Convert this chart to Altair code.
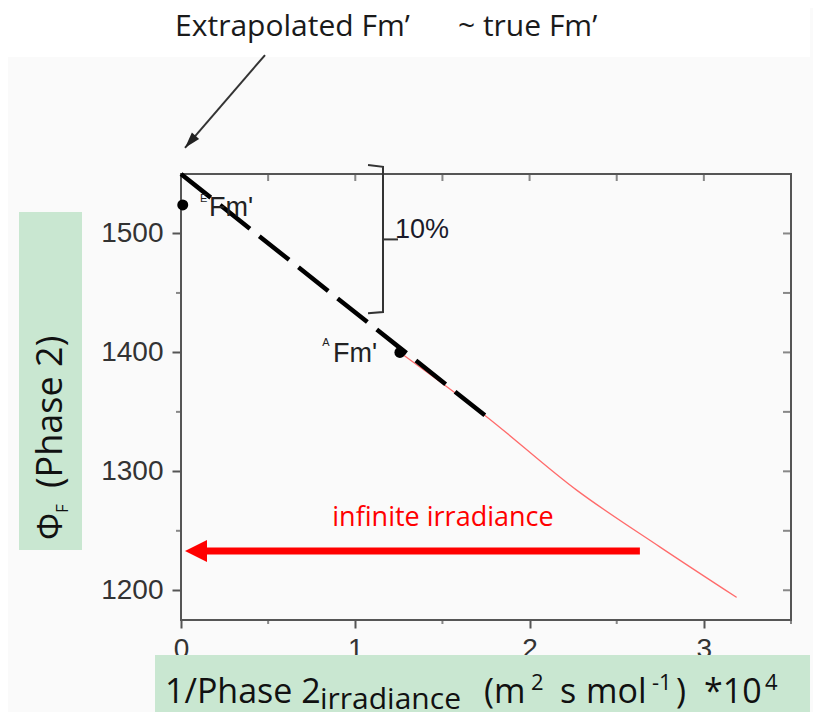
import altair as alt
import pandas as pd

# ---------------- data ----------------
X_DOMAIN = [0, 3.5]
Y_DOMAIN = [1175, 1550]
x_major = [0, 1, 2, 3]
y_major = [1200, 1300, 1400, 1500]
x_minor = [0.5, 1.5, 2.5, 3.5]
y_minor = [1250, 1350, 1450]
x_box_ticks = [0.5, 1, 1.5, 2, 2.5, 3]
y_box_ticks = [1200, 1250, 1300, 1350, 1400, 1450, 1500]

# extrapolated (dashed) line
fit_x = [0.0, 1.744]
fit_y = [1550, 1347]
# measured relationship (thin red)
curve_x = [1.256, 1.744, 2.272, 2.747, 3.188]
curve_y = [1400, 1347, 1284, 1236.5, 1194]
# points and their labels
pt_x = [0.01, 1.256]
pt_y = [1524, 1400]
lab_x = [0.161, 0.872]
lab_y = [1521, 1399]
sup_x = [0.130, 0.832]
sup_y = [1529, 1407.5]
sup_txt = ["E", "A"]

# 10% bracket
br_x = [1.073, 1.159, 1.159, 1.073]
br_y = [1557.5, 1556, 1434, 1433]
br_tick_x = [1.159, 1.245]
br_tick_y = [1495, 1495]
pct_pos = [1.228, 1503]

# top annotation arrow
blk_x = [0.482, 0.023]
blk_y = [1650, 1572]
title_txt = ["Extrapolated Fm\u2019", "~ true Fm\u2019"]
title_x = [-0.034, 1.589]
title_y = [1666, 1666]

# infinite irradiance arrow
red_x = [2.633, 0.08]
red_y = [1233, 1233]
red_tip = [0.023, 1233]
inf_text = ["infinite irradiance", 1.503, 1254]

# axis-title pieces (text, px along, px across, font size) relative to plot origin
ytitle_parts = [("\u03a6", 366, -119, 34), ("F", 339, -113, 17), ("(Phase 2)", 314, -119, 36)]
xtitle_parts = [("1/Phase 2", -16, 529, 34), ("irradiance", 139, 535, 30),
                ("(m", 303, 529, 34), ("2", 350, 516, 22), ("s", 379, 529, 34),
                ("mol", 405, 529, 34), ("-1", 471, 516, 22), (")", 495, 529, 34),
                ("*10", 523, 529, 34), ("4", 584, 516, 22)]

xs = alt.Scale(domain=X_DOMAIN, nice=False, zero=False)
ys = alt.Scale(domain=Y_DOMAIN, nice=False, zero=False)
AX = "#555555"
LBL = "#333333"
SANS = "Open Sans"

xaxis = alt.Axis(values=x_major, title=None, grid=False, domain=False, tickSize=8,
                 tickWidth=2, tickColor=AX, labelFont="Liberation Sans", labelFontSize=28,
                 labelColor=LBL, labelPadding=7, format="d", labelFlush=False)
yaxis = alt.Axis(values=y_major, title=None, grid=False, domain=False, tickSize=9,
                 tickWidth=2, tickColor=AX, labelFont="Liberation Sans", labelFontSize=28,
                 labelColor=LBL, labelPadding=9, format="d", labelFlush=False)


def X(f):
    return alt.X(f, type="quantitative", scale=xs, axis=xaxis)


def Y(f):
    return alt.Y(f, type="quantitative", scale=ys, axis=yaxis)


one = pd.DataFrame({"a": [0]})
layers = []

# top white strip (page background above the slide area)
layers.append(alt.Chart(one).mark_rect(color="#ffffff").encode(
    x=alt.value(-173), x2=alt.value(629), y=alt.value(-166), y2=alt.value(-117)))

# axis-title green boxes
layers.append(alt.Chart(one).mark_rect(color="#c9e7d1").encode(
    x=alt.value(-162), x2=alt.value(-99), y=alt.value(38), y2=alt.value(376)))
layers.append(alt.Chart(one).mark_rect(color="#c9e7d1").encode(
    x=alt.value(-26), x2=alt.value(629), y=alt.value(481), y2=alt.value(546)))

# minor ticks: bottom and left (outward)
layers.append(alt.Chart(pd.DataFrame({"x": x_minor, "y": [Y_DOMAIN[0]] * len(x_minor)}))
              .mark_tick(orient="vertical", size=4, thickness=2, color=AX, yOffset=2)
              .encode(x=X("x"), y=Y("y")))
layers.append(alt.Chart(pd.DataFrame({"y": y_minor, "x": [X_DOMAIN[0]] * len(y_minor)}))
              .mark_tick(orient="horizontal", size=5, thickness=2, color=AX, xOffset=-2.5)
              .encode(x=X("x"), y=Y("y")))
# top and right ticks (inward)
layers.append(alt.Chart(pd.DataFrame({"x": x_box_ticks, "y": [Y_DOMAIN[1]] * len(x_box_ticks)}))
              .mark_tick(orient="vertical", size=7, thickness=2, color=AX, yOffset=3.5)
              .encode(x=X("x"), y=Y("y")))
layers.append(alt.Chart(pd.DataFrame({"y": y_box_ticks, "x": [X_DOMAIN[1]] * len(y_box_ticks)}))
              .mark_tick(orient="horizontal", size=8, thickness=2, color=AX, xOffset=-4)
              .encode(x=X("x"), y=Y("y")))

# thin red measured curve
layers.append(alt.Chart(pd.DataFrame({"x": curve_x, "y": curve_y}))
              .mark_line(color="#ff6b6b", strokeWidth=1.3, interpolate="monotone")
              .encode(x=X("x"), y=Y("y")))
# dashed extrapolation
layers.append(alt.Chart(pd.DataFrame({"x": fit_x, "y": fit_y}))
              .mark_line(color="black", strokeWidth=4.5, strokeDash=[38, 12], strokeCap="butt")
              .encode(x=X("x"), y=Y("y")))
# points
layers.append(alt.Chart(pd.DataFrame({"x": pt_x, "y": pt_y}))
              .mark_circle(color="black", size=120, opacity=1)
              .encode(x=X("x"), y=Y("y")))
# point labels
layers.append(alt.Chart(pd.DataFrame({"x": lab_x, "y": lab_y, "t": ["Fm'", "Fm'"]}))
              .mark_text(font="Liberation Sans", fontSize=27, color="#222222", align="left",
                         baseline="middle")
              .encode(x=X("x"), y=Y("y"), text="t:N"))
layers.append(alt.Chart(pd.DataFrame({"x": sup_x, "y": sup_y, "t": sup_txt}))
              .mark_text(font="Liberation Sans", fontSize=11, color="#222222", align="center",
                         baseline="middle")
              .encode(x=X("x"), y=Y("y"), text="t:N"))

# bracket
layers.append(alt.Chart(pd.DataFrame({"x": br_x, "y": br_y, "o": [0, 1, 2, 3]}))
              .mark_line(color="#333333", strokeWidth=2)
              .encode(x=X("x"), y=Y("y"), order="o:Q"))
layers.append(alt.Chart(pd.DataFrame({"x": br_tick_x, "y": br_tick_y}))
              .mark_line(color="#333333", strokeWidth=2)
              .encode(x=X("x"), y=Y("y")))
layers.append(alt.Chart(pd.DataFrame({"x": [pct_pos[0]], "y": [pct_pos[1]], "t": ["10%"]}))
              .mark_text(font="Liberation Sans", fontSize=27, color="#1a1a2a", align="left",
                         baseline="middle")
              .encode(x=X("x"), y=Y("y"), text="t:N"))

# black annotation arrow
layers.append(alt.Chart(pd.DataFrame({"x": blk_x, "y": blk_y}))
              .mark_line(color="#333333", strokeWidth=2)
              .encode(x=X("x"), y=Y("y")))
layers.append(alt.Chart(pd.DataFrame({"x": [blk_x[1]], "y": [blk_y[1]]}))
              .mark_point(shape="M0,0 L-0.6,2 L0.6,2 Z", angle=221, size=256, filled=True,
                          color="#222222", opacity=1, strokeWidth=0)
              .encode(x=X("x"), y=Y("y")))
layers.append(alt.Chart(pd.DataFrame({"x": title_x, "y": title_y, "t": title_txt}))
              .mark_text(font=SANS, fontSize=30, color="#1a1a1a", align="left",
                         baseline="alphabetic")
              .encode(x=X("x"), y=Y("y"), text="t:N"))

# red infinite-irradiance arrow
layers.append(alt.Chart(pd.DataFrame({"x": red_x, "y": red_y}))
              .mark_line(color="#ff0000", strokeWidth=7, strokeCap="butt")
              .encode(x=X("x"), y=Y("y")))
layers.append(alt.Chart(pd.DataFrame({"x": [red_tip[0]], "y": [red_tip[1]]}))
              .mark_point(shape="M0,0 L-1,2 L1,2 Z", angle=270, size=484, filled=True,
                          color="#ff0000", opacity=1, strokeWidth=0)
              .encode(x=X("x"), y=Y("y")))
layers.append(alt.Chart(pd.DataFrame({"x": [inf_text[1]], "y": [inf_text[2]], "t": [inf_text[0]]}))
              .mark_text(font=SANS, fontSize=27, color="#ff0000", align="center",
                         baseline="alphabetic")
              .encode(x=X("x"), y=Y("y"), text="t:N"))

# y axis title (rotated): Φ_F (Phase 2)
for txt, py, px, fs in ytitle_parts:
    layers.append(alt.Chart(one).mark_text(font=SANS, fontSize=fs, color="#111111", angle=270,
                                           align="left", baseline="alphabetic", text=txt)
                  .encode(x=alt.value(px), y=alt.value(py)))

# x axis title: 1/Phase 2_irradiance (m^2 s mol^-1) *10^4
for txt, px, py, fs in xtitle_parts:
    layers.append(alt.Chart(one).mark_text(font=SANS, fontSize=fs, color="#111111",
                                           align="left", baseline="alphabetic", text=txt)
                  .encode(x=alt.value(px), y=alt.value(py)))

chart = alt.layer(*layers).properties(
    width=610, height=446,
    autosize=alt.AutoSizeParams(type="none"),
    padding={"left": 173, "top": 166, "right": 22, "bottom": 92},
    background="#fafafa",
).configure_view(stroke=AX, strokeWidth=2)

chart.save("out.html", embed_options={"renderer": "svg", "actions": False})
